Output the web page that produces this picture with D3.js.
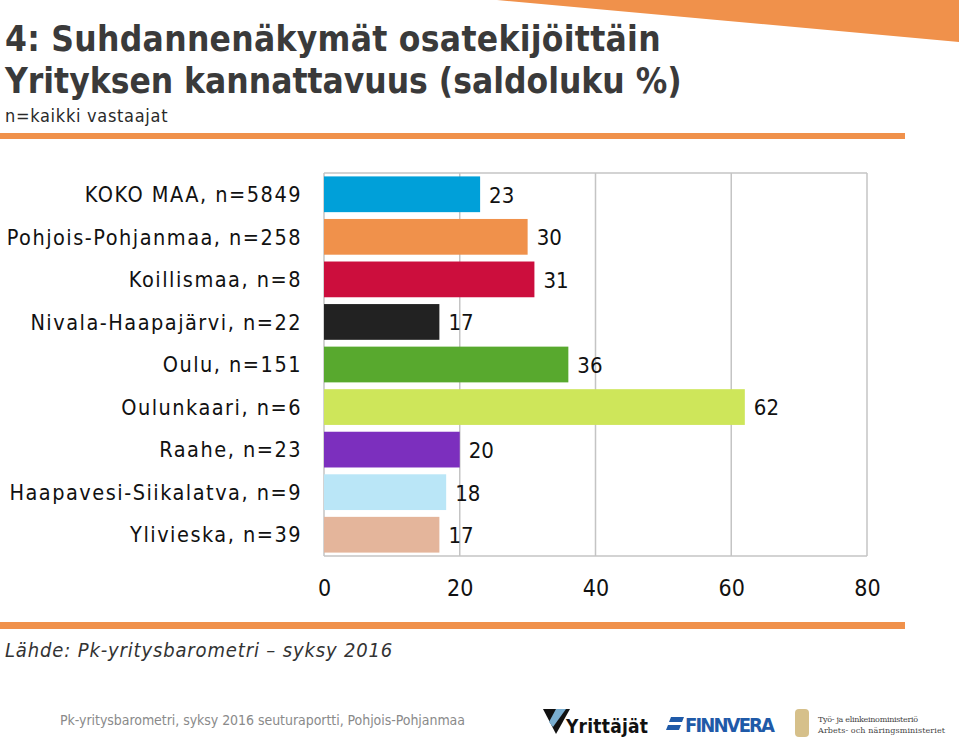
<!DOCTYPE html>
<html><head><meta charset="utf-8">
<script src="https://cdn.jsdelivr.net/npm/d3@7"></script>
<style>body{margin:0;background:#fff}svg{display:block}</style>
</head><body>
<svg id="c" width="959" height="743"></svg>
<script>
const categories = ["KOKO MAA, n=5849","Pohjois-Pohjanmaa, n=258","Koillismaa, n=8","Nivala-Haapajärvi, n=22","Oulu, n=151","Oulunkaari, n=6","Raahe, n=23","Haapavesi-Siikalatva, n=9","Ylivieska, n=39"];
const values = [23,30,31,17,36,62,20,18,17];
const colors = ["#00a0d9","#f0914b","#cc0e3d","#222222","#58a92e","#cee65a","#7c2fbe","#bae6f7","#e4b59b"];
const ticks = [0,20,40,60,80];
const title1 = "4: Suhdannenäkymät osatekijöittäin";
const title2 = "Yrityksen kannattavuus (saldoluku %)";
const subtitle = "n=kaikki vastaajat";
const source = "Lähde: Pk-yritysbarometri – syksy 2016";
const footer = "Pk-yritysbarometri, syksy 2016 seuturaportti, Pohjois-Pohjanmaa";

const svg = d3.select("#c");
const F = "'DejaVu Sans Condensed','DejaVu Sans',sans-serif";
const orange = "#f0914b";

// decorative top-right orange wedge
svg.append("path").attr("d","M497,0 L959,0 L959,42 Z").attr("fill",orange);

svg.append("text").attr("x",5).attr("y",51).attr("font-family",F).attr("font-weight","bold")
  .attr("font-size",35).attr("letter-spacing",0.3).attr("fill","#3a3a3a").text(title1);
svg.append("text").attr("x",5).attr("y",93).attr("font-family",F).attr("font-weight","bold")
  .attr("font-size",35).attr("fill","#3a3a3a").text(title2);
svg.append("text").attr("x",5).attr("y",122).attr("font-family",F)
  .attr("font-size",18).attr("letter-spacing",0.7).attr("fill","#2a2a2a").text(subtitle);

svg.append("rect").attr("x",0).attr("y",133).attr("width",905).attr("height",6).attr("fill",orange);
svg.append("rect").attr("x",0).attr("y",622).attr("width",905).attr("height",7).attr("fill",orange);

const x = d3.scaleLinear().domain([0,80]).range([324,867]);
const y = d3.scaleBand().domain(categories).range([173,556]).paddingInner(0.16).paddingOuter(0.08);

const g = svg.append("g");
g.selectAll("line.grid").data(ticks.slice(1)).join("line")
  .attr("x1",d=>x(d)).attr("x2",d=>x(d)).attr("y1",173).attr("y2",556)
  .attr("stroke","#c4c4c4").attr("stroke-width",1.5);
g.append("line").attr("x1",x(0)).attr("x2",x(80)).attr("y1",173).attr("y2",173).attr("stroke","#c4c4c4").attr("stroke-width",1.5);
g.append("line").attr("x1",x(0)).attr("x2",x(80)).attr("y1",556).attr("y2",556).attr("stroke","#c4c4c4").attr("stroke-width",1.5);
g.append("line").attr("x1",x(0)).attr("x2",x(0)).attr("y1",173).attr("y2",556).attr("stroke","#c4c4c4").attr("stroke-width",1.5);

g.selectAll("rect.bar").data(values).join("rect")
  .attr("x",x(0)).attr("y",(d,i)=>y(categories[i])).attr("width",d=>x(d)-x(0))
  .attr("height",y.bandwidth()).attr("fill",(d,i)=>colors[i]);

g.selectAll("text.val").data(values).join("text")
  .attr("x",d=>x(d)+9).attr("y",(d,i)=>y(categories[i])+y.bandwidth()/2)
  .attr("dy","0.38em").attr("font-family",F).attr("font-size",22).attr("fill","#111").text(d=>d);

g.selectAll("text.cat").data(categories).join("text")
  .attr("x",302).attr("y",d=>y(d)+y.bandwidth()/2).attr("dy","0.36em")
  .attr("text-anchor","end").attr("font-family",F).attr("font-size",21.5)
  .attr("letter-spacing",1.5).attr("fill","#111").text(d=>d);

const ax = svg.append("g").attr("transform","translate(0,580)")
  .call(d3.axisBottom(x).tickValues(ticks).tickSize(0).tickPadding(0));
ax.select(".domain").remove();
ax.selectAll("text").attr("font-family",F).attr("font-size",23).attr("fill","#111").attr("dy","0.71em");

svg.append("text").attr("x",5).attr("y",657).attr("font-family",F).attr("font-style","italic")
  .attr("font-size",20).attr("letter-spacing",0.85).attr("fill","#333").text(source);

svg.append("text").attr("x",60).attr("y",725).attr("font-family",F)
  .attr("font-size",14).attr("fill","#8a8a8a").attr("textLength",405).text(footer);

// logos (approximate)
const lg = svg.append("g");
lg.append("path").attr("d","M543,709 L570,709 L556,734 Z").attr("fill","#111");
lg.append("path").attr("d","M556,709 L566,709 L553,727 L549,722 Z").attr("fill","#7aaed0");
lg.append("text").attr("x",566).attr("y",733).attr("font-family",F).attr("font-weight","bold")
  .attr("font-size",19).attr("fill","#111").attr("textLength",82).text("Yrittäjät");
lg.append("path").attr("d","M671,717 L684,717 L682,722 L669,722 Z M668,725 L681,725 L679,730 L666,730 Z").attr("fill","#1f5aa8");
lg.append("text").attr("x",685).attr("y",732).attr("font-family",F).attr("font-weight","bold")
  .attr("font-size",20).attr("fill","#1f5aa8").attr("textLength",90).text("FINNVERA");
lg.append("rect").attr("x",795).attr("y",709).attr("width",14).attr("height",28).attr("fill","#d6c08a").attr("rx",4);
lg.append("text").attr("x",818).attr("y",722).attr("font-family","'DejaVu Serif',serif")
  .attr("font-size",8).attr("fill","#444").attr("textLength",100).text("Työ- ja elinkeinoministeriö");
lg.append("text").attr("x",818).attr("y",733).attr("font-family","'DejaVu Serif',serif")
  .attr("font-size",8).attr("fill","#444").attr("textLength",127).text("Arbets- och näringsministeriet");
</script>
</body></html>
